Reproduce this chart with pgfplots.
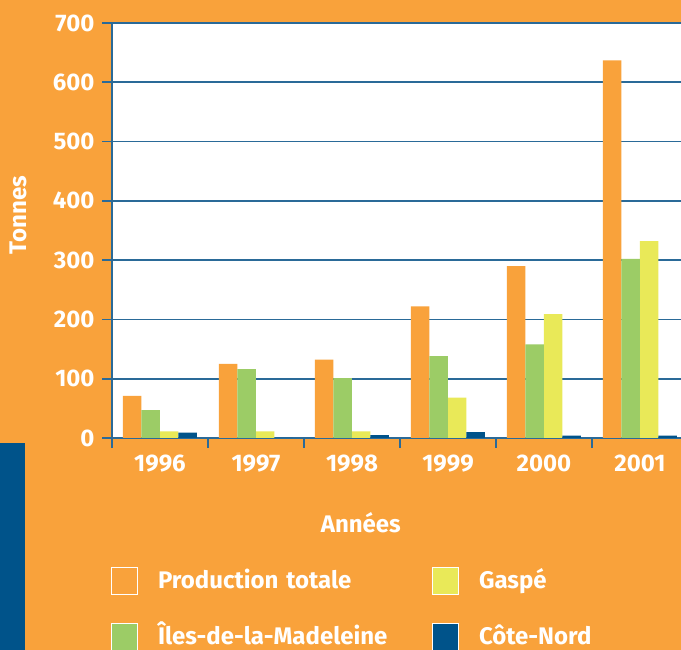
\documentclass[border=0pt]{standalone}
\usepackage{fontspec}
\setmainfont{Fira Sans}
\usepackage{pgfplots}
\pgfplotsset{compat=1.18}
\definecolor{bgorange}{HTML}{F9A23B}
\definecolor{bargreen}{HTML}{9CCC66}
\definecolor{baryellow}{HTML}{E9E958}
\definecolor{barblue}{HTML}{00538A}
\definecolor{axisblue}{HTML}{2A6A98}
\newcommand{\bigfont}{\fontsize{24}{28}\selectfont\bfseries}
\pgfplotsset{mylegend/.style={legend image code/.code={\draw[##1,draw=white,line width=1pt] (0pt,-13.5pt) rectangle (26pt,13.5pt);}}}
\begin{document}
\begin{tikzpicture}[x=1pt,y=1pt]
\path[use as bounding box] (0,0) rectangle (681,650);
\clip (0,0) rectangle (681,650);
\fill[bgorange] (0,0) rectangle (681,650);
\fill[barblue] (0,0) rectangle (25,207);
\begin{axis}[
 at={(112pt,212pt)}, anchor=south west,
 scale only axis, width=576pt, height=415pt,
 xmin=-0.5, xmax=5.5, ymin=0, ymax=700,
 ybar, bar width=18.5pt,
 axis background/.style={fill=white},
 axis line style={axisblue, line width=1.6pt},
 tick pos=left, tick align=outside,
 major tick length=10pt,
 every tick/.style={axisblue, line width=1.6pt},
 ytick={0,100,200,300,400,500,600,700},
 ymajorgrids, major grid style={axisblue, line width=1.6pt},
 xtick={-0.5,0.5,1.5,2.5,3.5,4.5,5.5}, xticklabels={},
 extra x ticks={0,1,2,3,4,5},
 extra x tick labels={1996,1997,1998,1999,2000,2001},
 extra x tick style={major tick length=0pt, xticklabel style={yshift=-13pt}},
 /pgf/number format/assume math mode=true,
 tick label style={font=\bigfont, text=white},
 yticklabel style={xshift=-4pt},
 xlabel={Années}, ylabel={Tonnes},
 every axis x label/.style={at={(axis description cs:0.432,-0.205)}, anchor=center, font=\bigfont, text=white},
 every axis y label/.style={at={(axis description cs:-0.163,0.537)}, rotate=90, anchor=center, font=\bigfont, text=white},
 legend columns=2,
 legend cell align=left,
 legend style={at={(axis description cs:-0.0017,-0.305)}, anchor=north west, draw=none, fill=none, inner sep=0pt, outer sep=0pt, row sep=24pt, font=\bigfont, text=white, nodes={inner sep=0pt, text height=24pt, text depth=8pt, text width=274pt}, /tikz/every odd column/.append style={column sep=20pt}},
]
\addplot[fill=bgorange, draw=none, bar shift=-27.75pt, mylegend] coordinates {(0,71) (1,125) (2,132) (3,222) (4,290) (5,637)};
\addlegendentry{Production totale}
\addplot[fill=baryellow, draw=none, bar shift=9.25pt, mylegend] coordinates {(0,11) (1,11) (2,11) (3,68) (4,209) (5,332)};
\addlegendentry{Gaspé}
\addplot[fill=bargreen, draw=none, bar shift=-9.25pt, mylegend] coordinates {(0,47) (1,116) (2,101) (3,138) (4,158) (5,302)};
\addlegendentry{Îles-de-la-Madeleine}
\addplot[fill=barblue, draw=none, bar shift=27.75pt, mylegend] coordinates {(0,9) (1,0) (2,5) (3,10) (4,4) (5,4)};
\addlegendentry{Côte-Nord}
\end{axis}
\end{tikzpicture}
\end{document}
